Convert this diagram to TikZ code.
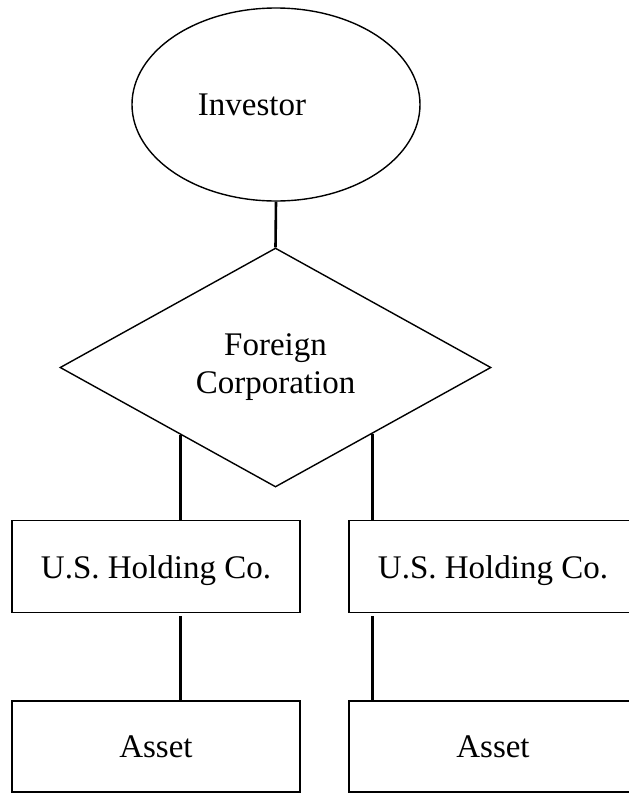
\documentclass[tikz,border=0pt]{standalone}
\usepackage{fontspec}
\setmainfont{Liberation Serif}
\usetikzlibrary{shapes.geometric,calc}
\begin{document}
\begin{tikzpicture}[x=1pt,y=-1pt,
  txt/.style={font=\fontsize{33}{38}\selectfont},
  shapeline/.style={draw=black,line width=1.4pt,inner sep=0pt,txt},
  conn/.style={draw=black,line width=2.6pt},
  boxnode/.style={shapeline,rectangle,minimum width=288pt,minimum height=92pt,text depth=0pt}]
\useasboundingbox (0,0) rectangle (629,793);
\node[shapeline,ellipse,minimum width=288pt,minimum height=193pt,
  label={[txt,xshift=-24pt,text depth=0pt]center:Investor}] (inv) at (276,104.5) {};
\node[shapeline,diamond,minimum width=431pt,minimum height=239pt,align=center] (fc) at (275.5,367.5) {Foreign\\Corporation};
\node[boxnode] (h1) at (156,566.7) {U.S. Holding Co.};
\node[boxnode] (h2) at (493,566.7) {U.S. Holding Co.};
\node[boxnode,minimum height=91pt] (a1) at (156,746.5) {Asset};
\node[boxnode,minimum height=91pt] (a2) at (493,746.5) {Asset};
\coordinate (cL) at ($(fc.west)!0.56!(fc.south)$);
\coordinate (cR) at ($(fc.east)!0.55!(fc.south)$);
\draw[conn] (inv.south) -- (fc.north);
\draw[conn] (cL) -- (h1.north -| cL);
\draw[conn] (cR) -- (h2.north -| cR);
\draw[conn] ($(h1.south -| cL)+(0,3)$) -- (a1.north -| cL);
\draw[conn] ($(h2.south -| cR)+(0,3)$) -- (a2.north -| cR);
\end{tikzpicture}
\end{document}
